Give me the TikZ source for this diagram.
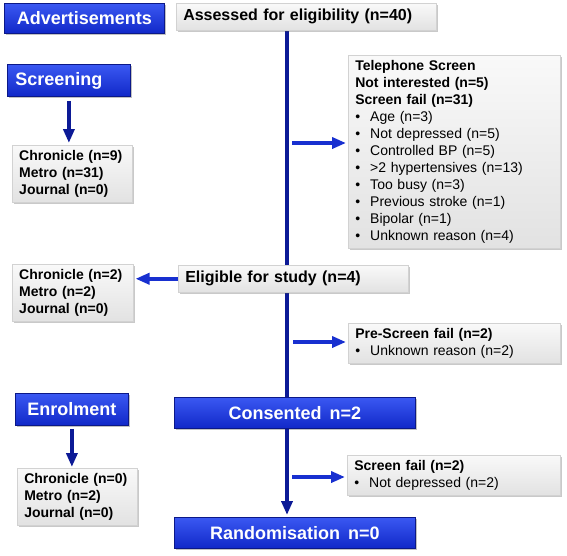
\documentclass[tikz,border=0pt]{standalone}
\usepackage{fontspec}
\setmainfont{Liberation Sans}
\usetikzlibrary{arrows.meta,shadows,backgrounds}

\definecolor{hdrtop}{HTML}{3A58F2}
\definecolor{hdrbot}{HTML}{1128C8}
\definecolor{hdredge}{HTML}{0B1888}
\definecolor{sideblue}{HTML}{1830D0}
\definecolor{navyblue}{HTML}{0C1A96}
\definecolor{boxtop}{HTML}{F9F9F9}
\definecolor{boxbot}{HTML}{E2E2E2}
\definecolor{boxedge}{HTML}{D2D2D2}

\newcommand{\bul}[1]{\makebox[15pt][l]{\textbullet}#1}

\tikzset{
  hdr/.style={draw=hdredge, line width=0.8pt, top color=hdrtop, bottom color=hdrbot,
    text=white, font=\bfseries\fontsize{18}{20}\selectfont, align=center,
    anchor=north west, inner xsep=4pt, inner ysep=2pt,
    drop shadow={shadow xshift=2pt, shadow yshift=-2pt, opacity=0.35, fill=black!70}},
  info/.style={draw=boxedge, line width=0.5pt, top color=boxtop, bottom color=boxbot,
    font=\fontsize{14}{17}\selectfont, align=left, anchor=north west,
    inner xsep=7pt, inner ysep=5pt,
    drop shadow={shadow xshift=2pt, shadow yshift=-2pt, opacity=0.3, fill=black!70}},
  src/.style={info, font=\bfseries\fontsize{14}{17}\selectfont},
  stage/.style={info, font=\bfseries\fontsize{16}{18}\selectfont, inner ysep=2pt},
  down/.style={navyblue, line width=3.5pt, -{Triangle[length=14pt,width=11pt]}},
  side/.style={sideblue, line width=3.5pt, -{Triangle[length=14pt,width=11pt]}, shorten >=2pt},
  trunkline/.style={navyblue, line width=3.5pt},
}

\begin{document}
\begin{tikzpicture}[x=1pt, y=-1pt]
    \useasboundingbox (0,0) rectangle (567,555);

    % left column
    \node[hdr, text width=152pt, minimum height=30pt] (adv) at (4,3) {Advertisements};
    \node[hdr, align=left, text width=107pt, inner xsep=8pt, minimum height=32pt] (screen) at (7,64) {Screening};
    \node[src, text width=106pt] (src1) at (12,145) {Chronicle (n=9)\\ Metro (n=31)\\ Journal (n=0)};
    \node[src, text width=107pt] (src2) at (12,264) {Chronicle (n=2)\\ Metro (n=2)\\ Journal (n=0)};
    \node[hdr, text width=105pt, minimum height=32pt] (enrol) at (15,393) {Enrolment};
    \node[src, text width=106pt] (src3) at (17,468) {Chronicle (n=0)\\ Metro (n=2)\\ Journal (n=0)};

    % main column
    \node[stage, text width=246pt, minimum height=27pt] (assess) at (176,3) {Assessed for eligibility (n=40)};
    \node[stage, text width=216pt, minimum height=27pt] (elig) at (178,265) {Eligible for study (n=4)};
    \node[hdr, text width=233pt, minimum height=31pt] (consent) at (174,397) {Consented\hspace{0.45em}n=2};
    \node[hdr, text width=233pt, minimum height=31pt] (rand) at (174,517) {Randomisation\hspace{0.45em}n=0};

    % exclusions
    \node[info, text width=198pt] (phone) at (348,55) {\textbf{Telephone Screen}\\ \textbf{Not interested (n=5)}\\ \textbf{Screen fail (n=31)}\\
        \bul{Age (n=3)}\\ \bul{Not depressed (n=5)}\\ \bul{Controlled BP (n=5)}\\ \bul{>2 hypertensives (n=13)}\\
        \bul{Too busy (n=3)}\\ \bul{Previous stroke (n=1)}\\ \bul{Bipolar (n=1)}\\ \bul{Unknown reason (n=4)}};
    \node[info, text width=198pt] (pre) at (348,323) {\textbf{Pre-Screen fail (n=2)}\\ \bul{Unknown reason (n=2)}};
    \node[info, text width=199pt] (fail) at (347,455) {\textbf{Screen fail (n=2)}\\ \bul{Not depressed (n=2)}};

    % trunk and branches
    \coordinate (trunk) at (287,0);
    \coordinate (telfork) at (292,143);
    \coordinate (prefork) at (293,342);
    \coordinate (failfork) at (292,477);

    \begin{scope}[on background layer]
        \draw[trunkline] (assess.south -| trunk) -- (consent.north -| trunk);
    \end{scope}
    \draw[down] (consent.south -| trunk) -- ([yshift=2pt]rand.north -| trunk);
    \draw[side] (telfork) -- (telfork -| phone.west);
    \draw[side] (prefork) -- (prefork -| pre.west);
    \draw[side] (failfork) -- (failfork -| fail.west);
    \draw[side] (elig.west) -- (elig.west -| src2.east);

    \draw[down, shorten <=4pt, shorten >=2pt] (screen.south) -- (screen.south |- src1.north);
    \draw[down, shorten <=3pt, shorten >=1pt] (enrol.south) -- (enrol.south |- src3.north);
\end{tikzpicture}
\end{document}
